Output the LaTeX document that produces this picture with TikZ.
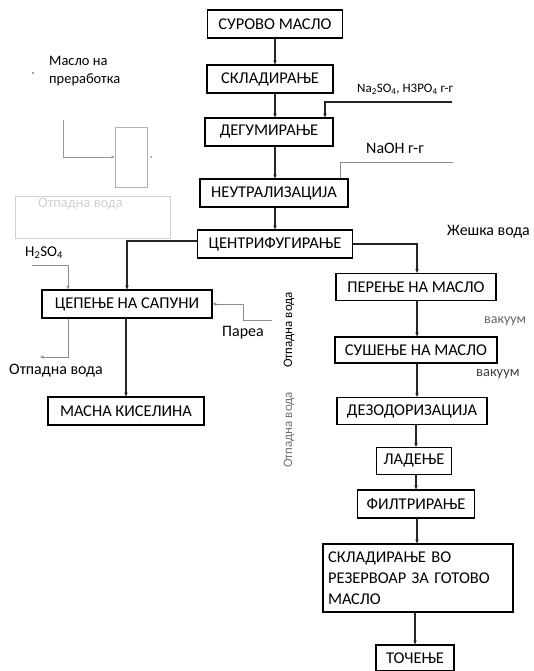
\documentclass[tikz,border=0pt]{standalone}
\usepackage{fontspec}
\setmainfont{Carlito}
\usetikzlibrary{arrows.meta,calc}
\begin{document}
\begin{tikzpicture}[x=1bp,y=-1bp,
  box/.style={draw=black,line width=1.2bp,minimum height=28bp,inner sep=2bp,font=\fontsize{16.5}{18}\selectfont,text=black},
  flow/.style={line width=1.1bp,draw=black!85,-{Stealth[length=4bp,width=3.5bp]}},
  aux/.style={line width=0.8bp,draw=black!45},
  auxa/.style={aux,-{Stealth[length=4bp,width=3.5bp]}},
  lbl/.style={font=\fontsize{16}{18}\selectfont,text=black,inner sep=0pt},
  faint/.style={draw=black!18,line width=0.8bp}]
\useasboundingbox[fill=white] (0,0) rectangle (534,671);
% main column
\node[box,minimum width=135bp] (n1) at (275,24) {СУРОВО МАСЛО};
\node[box,minimum width=126bp] (n2) at (270,79) {СКЛАДИРАЊЕ};
\node[box,minimum width=128bp] (n3) at (269,132) {ДЕГУМИРАЊЕ};
\node[box,minimum width=148bp] (n4) at (274,193) {НЕУТРАЛИЗАЦИЈА};
\node[box,minimum width=155bp] (n5) at (275,244) {ЦЕНТРИФУГИРАЊЕ};
% left branch
\node[box,minimum width=170bp] (n6) at (127,304) {ЦЕПЕЊЕ НА САПУНИ};
\node[box,minimum width=156bp] (n7) at (126,411) {МАСНА КИСЕЛИНА};
% right branch
\node[box,minimum width=160bp,minimum height=27bp] (r1) at (416,287) {ПЕРЕЊЕ НА МАСЛО};
\node[box,minimum width=162bp,minimum height=26bp] (r2) at (416,350) {СУШЕЊЕ НА МАСЛО};
\node[box,minimum width=150bp,minimum height=27bp] (r3) at (412,411) {ДЕЗОДОРИЗАЦИЈА};
\node[box,minimum width=75bp,minimum height=27bp] (r4) at (414,461) {ЛАДЕЊЕ};
\node[box,minimum width=117bp] (r5) at (416,504) {ФИЛТРИРАЊЕ};
\node[box,minimum width=190bp,minimum height=68bp,align=left,text width=180bp,font=\fontsize{16.5}{21}\selectfont] (r6) at (418,578) {СКЛАДИРАЊЕ ВО\\РЕЗЕРВОАР ЗА ГОТОВО\\МАСЛО};
\node[box,minimum width=78bp,minimum height=26bp] (r7) at (415,658) {ТОЧЕЊЕ};
% main arrows
\draw[flow] (n1.south) -- (n1.south |- n2.north);
\draw[flow] ([xshift=5bp]n2.south) -- ([xshift=5bp]n2.south |- n3.north);
\draw[flow] ([xshift=6bp]n3.south) -- ([xshift=6bp]n3.south |- n4.north);
\draw[flow] ([xshift=1bp]n4.south) -- ([xshift=1bp]n4.south |- n5.north);
\draw[flow] ([yshift=3bp]n5.west) -| (n6.north);
\draw[flow] (n5.east) -| ([xshift=1bp]r1.north);
\draw[flow] ([xshift=-1bp]n6.south) -- ([xshift=-1bp]n6.south |- n7.north);
\draw[flow] ([xshift=1bp]r1.south) -- ([xshift=1bp]r1.south |- r2.north);
\draw[flow] ([xshift=1bp]r2.south) -- ([xshift=1bp]r2.south |- r3.north);
\draw[flow] ([xshift=4bp]r3.south) -- ([xshift=4bp]r3.south |- r4.north);
\draw[flow] ([xshift=2bp]r4.south) -- ([xshift=2bp]r4.south |- r5.north);
\draw[flow] ([xshift=1bp]r5.south) -- ([xshift=1bp]r5.south |- r6.north);
\draw[flow] ([xshift=-3bp]r6.south) -- ([xshift=-3bp]r6.south |- r7.north);
% reagent inputs
\node[lbl,anchor=west,font=\fontsize{13}{15}\selectfont] (la) at (357,89) {Na\textsubscript{2}SO\textsubscript{4}, H3PO\textsubscript{4} г-г};
\coordinate (na) at (452,102);
\draw[flow] (na) -| ([xshift=56bp]n3.north);
\node[lbl,anchor=west] (lb) at (366,148) {NaOH г-г};
\coordinate (nb) at (453,162);
\draw[aux] (nb) -| ([xshift=66bp]n4.north);
\node[lbl,anchor=west] (lc) at (447,232) {Жешка вода};
\node[lbl,anchor=west,text=black!60,font=\fontsize{14}{16}\selectfont] (ld) at (484,321) {вакуум};
\node[lbl,anchor=west,text=black!75,font=\fontsize{14.5}{16}\selectfont] (le) at (476,374) {вакуум};
% left side
\node[lbl,anchor=north west,align=left,font=\fontsize{14.5}{18}\selectfont] (lf) at (49,56) {Масло на\\преработка};
\fill[black!55] (33,73) circle (1bp);
\node[draw=black!30,line width=0.8bp,minimum width=32bp,minimum height=60bp,inner sep=0pt] (g1) at (131,157) {};
\coordinate (g0) at (63,120);
\draw[aux,draw=black!40,-{Stealth[length=3.5bp,width=3bp]}] (g0) |- (g1.west);
\fill[black!45] (151,157) circle (1bp);
\node[faint,minimum width=155bp,minimum height=42bp,inner sep=0pt] (g2) at (92.5,217) {};
\node[lbl,anchor=west,text=black!18,font=\fontsize{14.5}{16}\selectfont] (lg) at (38,204) {Отпадна вода};
\node[lbl,anchor=west,font=\fontsize{15}{17}\selectfont] (lh) at (25,253) {H\textsubscript{2}SO\textsubscript{4}};
\coordinate (hs) at (32,265);
\draw[auxa] (hs) -| ([xshift=-59bp]n6.north);
\coordinate (ow) at (40,357);
\draw[auxa] ([xshift=-59bp]n6.south) |- (ow);
\node[lbl,anchor=west] (li) at (9,371) {Отпадна вода};
\coordinate (pa) at (272,320);
\draw[auxa] (pa) -- (243,320) |- (n6.east);
\node[lbl,anchor=west] (lj) at (222,333) {Пареа};
\node[lbl,rotate=90,font=\fontsize{13}{15}\selectfont] (lk) at (289,330) {Отпадна вода};
\node[lbl,rotate=90,text=black!55,font=\fontsize{13}{15}\selectfont] (ll) at (289,430) {Отпадна вода};
\end{tikzpicture}
\end{document}
